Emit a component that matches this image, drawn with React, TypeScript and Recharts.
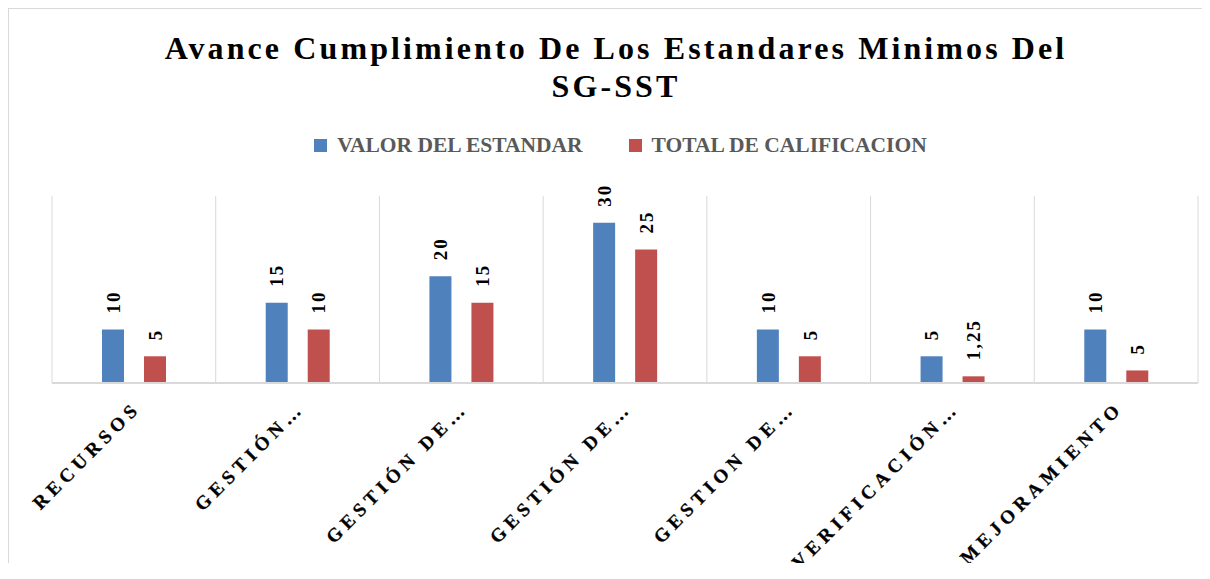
import React from 'react'
import { Bar, BarChart, CartesianGrid, LabelList, Legend, XAxis, YAxis } from 'recharts'

const categories = ['RECURSOS', 'GESTIÓN…', 'GESTIÓN DE…', 'GESTIÓN DE…', 'GESTION DE…', 'VERIFICACIÓN…', 'MEJORAMIENTO']
const seriesNames = ['VALOR DEL ESTANDAR', 'TOTAL DE CALIFICACION']
const valorEstandar = [10, 15, 20, 30, 10, 5, 10]
const totalCalificacion = [5, 10, 15, 25, 5, 1.25, 2.35]
const totalLabels = ['5', '10', '15', '25', '5', '1,25', '5']

const BLUE = '#4F81BD'
const RED = '#C0504D'
const SERIF = '"Liberation Serif", "Times New Roman", serif'

const data = categories.map((name, i) => ({
  name,
  valor: valorEstandar[i],
  total: totalCalificacion[i],
  valorLabel: String(valorEstandar[i]).replace('.', ','),
  totalLabel: totalLabels[i],
}))

// rotated value label sitting just above the bar
const ValueLabel = (props: any) => {
  const vb = props.viewBox || {}
  const x = props.x ?? vb.x
  const y = props.y ?? vb.y
  const width = props.width ?? vb.width
  return (
    <text
      x={0}
      y={0}
      transform={`translate(${x + width / 2},${y - 16}) rotate(-90)`}
      dy='0.35em'
      textAnchor='start'
      fontFamily={SERIF}
      fontWeight='bold'
      fontSize={19}
      letterSpacing={2}
      fill='#000'
    >
      {props.value}
    </text>
  )
}

const CategoryTick = (props: any) => {
  const { x, y, payload } = props
  return (
    <text
      x={0}
      y={0}
      transform={`translate(${x + 8},${y + 26}) rotate(-45)`}
      textAnchor='end'
      fontFamily={SERIF}
      fontWeight='bold'
      fontSize={19}
      letterSpacing={5}
      stroke='#000'
      strokeWidth={0.3}
      fill='#000'
    >
      {payload.value}
    </text>
  )
}

const renderLegend = (props: any) => {
  const items = [...(props.payload || [])].sort(
    (a: any, b: any) => seriesNames.indexOf(a.value) - seriesNames.indexOf(b.value)
  )
  return (
    <div
      style={{
        display: 'flex',
        justifyContent: 'center',
        gap: 46,
        fontFamily: SERIF,
        fontWeight: 'bold',
        fontSize: 21.5,
        lineHeight: '20px',
        color: '#595959',
      }}
    >
      {items.map((entry: any) => (
        <span key={entry.value} style={{ display: 'flex', alignItems: 'center' }}>
          <span style={{ width: 13, height: 13, background: entry.color, marginRight: 10 }} />
          {entry.value}
        </span>
      ))}
    </div>
  )
}

export default function App() {
  return (
    <div
      style={{
        position: 'relative',
        width: 1202,
        height: 570,
        marginBottom: -16,
        overflow: 'hidden',
        borderTop: '1px solid #d9d9d9',
        borderLeft: '1px solid #d9d9d9',
        background: '#fff',
      }}
    >
      <div
        style={{
          position: 'absolute',
          top: 20,
          left: 13,
          width: 1188,
          textAlign: 'center',
          fontFamily: SERIF,
          fontWeight: 'bold',
          fontSize: 32,
          lineHeight: '38px',
          letterSpacing: 3.1,
          color: '#000',
        }}
      >
        Avance Cumplimiento De Los Estandares Minimos Del
        <br />
        SG-SST
      </div>
      <BarChart
        width={1201}
        height={570}
        data={data}
        margin={{ top: 187, right: 12, left: 43, bottom: 46 }}
        barGap={20}
        barSize={22}
      >
        <CartesianGrid
          horizontal={false}
          stroke='#d9d9d9'
          verticalCoordinatesGenerator={({ offset }: any) =>
            data.map((_, i) => offset.left + (i * offset.width) / data.length).concat(offset.left + offset.width)
          }
        />
        <XAxis
          dataKey='name'
          height={150}
          interval={0}
          tickLine={false}
          tickSize={0}
          tickMargin={0}
          axisLine={{ stroke: '#d9d9d9', strokeWidth: 2 }}
          tick={<CategoryTick />}
        />
        <YAxis hide domain={[0, 35]} />
        <Legend
          layout='horizontal'
          verticalAlign='middle'
          align='center'
          content={renderLegend}
          wrapperStyle={{ top: 126, left: 20, width: 1183 }}
        />
        <Bar dataKey='valor' name={seriesNames[0]} fill={BLUE} isAnimationActive={false}>
          <LabelList dataKey='valorLabel' content={<ValueLabel />} />
        </Bar>
        <Bar dataKey='total' name={seriesNames[1]} fill={RED} isAnimationActive={false}>
          <LabelList dataKey='totalLabel' content={<ValueLabel />} />
        </Bar>
      </BarChart>
    </div>
  )
}
